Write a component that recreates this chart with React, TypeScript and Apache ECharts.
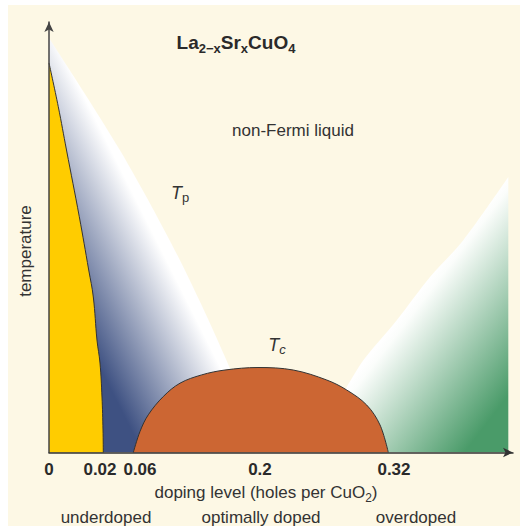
import React, { useEffect, useRef } from 'react';
import * as echarts from 'echarts';

// Schematic phase diagram: x and y are in schematic units (0–100) along each axis.
const xTickPositions = [0, 10.99, 19.61, 45.47, 74.35];
const xTickLabels = ['0', '0.02', '0.06', '0.2', '0.32'];

const pseudogapEdge = [
  [0, 96.3], [7.76, 83.3], [15.3, 70.2], [22.0, 57.4], [28.2, 44.7],
  [33.8, 32.1], [39.0, 19.5], [41.6, 12.1], [43.75, 0],
];
const afBoundary = [
  [0, 90.48], [2.0, 80.33], [3.77, 70.27], [6.53, 54.77], [8.56, 42.39],
  [9.55, 36.12], [10.34, 26.13], [10.99, 20.79], [11.42, 12.89], [11.64, 5.23], [11.7, 0],
];
const tcDome = [
  [18.17, 0], [19.61, 4.88], [21.4, 8.76], [24.63, 13.0], [28.23, 16.1],
  [32.91, 18.03], [37.93, 19.16], [45.04, 19.74], [52.65, 19.16], [59.85, 16.84],
  [64.16, 14.52], [68.47, 11.03], [71.34, 6.39], [73.13, 0],
];
const fermiEdge = [
  [55.39, 0], [64.16, 15.19], [67.74, 21.4], [74.94, 30.7], [82.11, 40.77],
  [89.29, 49.3], [98.99, 64.0],
];

const FONT = '"Liberation Sans", Arial, Helvetica, sans-serif';
const TXT = '#333333';
const OX = 8;
const OY = 5;

function label(x: number, y: number, text: string, extra: any = {}, rot = 0) {
  return {
    type: 'text',
    x: x - OX,
    y: y - OY,
    rotation: rot,
    silent: true,
    style: {
      text,
      fill: TXT,
      fontFamily: FONT,
      fontSize: 17,
      align: 'center',
      verticalAlign: 'middle',
      ...extra,
    },
  };
}

export default function App() {
  const ref = useRef<HTMLDivElement>(null);
  useEffect(() => {
    if (!ref.current) return;
    const chart = echarts.init(ref.current, undefined, { renderer: 'svg' });
    const pgGrad = new echarts.graphic.LinearGradient(
      180 - OX, 260 - OY, 72.8 - OX, 314 - OY,
      [
        { offset: 0, color: '#ffffff' },
        { offset: 0.1, color: '#ffffff' },
        { offset: 1, color: '#3e5182' },
      ],
      true
    );
    const flGrad = new echarts.graphic.LinearGradient(
      375 - OX, 349.7 - OY, 481 - OX, 431 - OY,
      [
        { offset: 0, color: '#ffffff' },
        { offset: 0.06, color: '#fbfdfb' },
        { offset: 1, color: '#4a9b69' },
      ],
      true
    );
    const option: any = {
      animation: false,
      backgroundColor: 'transparent',
      grid: { left: 41, top: 17, right: 7, bottom: 73.5, containLabel: false },
      xAxis: {
        type: 'value',
        min: 0,
        max: 100,
        z: 10,
        splitLine: { show: false },
        axisTick: { show: false },
        axisLine: {
          show: true,
          onZero: false,
          symbol: ['none', 'arrow'],
          symbolSize: [7, 10],
          lineStyle: { color: '#333333', width: 1.5 },
        },
        axisLabel: {
          customValues: xTickPositions,
          formatter: (v: number) => {
            const i = xTickPositions.findIndex((p) => Math.abs(p - v) < 1e-6);
            return i >= 0 ? xTickLabels[i] : '';
          },
          color: '#2a2a2a',
          fontFamily: FONT,
          fontSize: 17,
          fontWeight: 'bold',
          margin: 8,
        },
      },
      yAxis: {
        type: 'value',
        min: 0,
        max: 100,
        z: 10,
        splitLine: { show: false },
        axisTick: { show: false },
        axisLabel: { show: false },
        axisLine: {
          show: true,
          onZero: false,
          symbol: ['none', 'arrow'],
          symbolSize: [7, 10],
          lineStyle: { color: '#444444', width: 1.5 },
        },
      },
      series: [
        {
          name: 'pseudogap',
          type: 'line',
          data: pseudogapEdge,
          smooth: 0.3,
          symbol: 'none',
          lineStyle: { width: 0, opacity: 0 },
          areaStyle: { color: pgGrad, opacity: 1 },
        },
        {
          name: 'Fermi liquid',
          type: 'line',
          data: fermiEdge,
          smooth: 0.3,
          symbol: 'none',
          lineStyle: { width: 0, opacity: 0 },
          areaStyle: { color: flGrad, opacity: 1 },
        },
        {
          name: 'antiferromagnetic',
          type: 'line',
          data: afBoundary,
          smooth: 0.4,
          symbol: 'none',
          lineStyle: { color: '#333333', width: 1 },
          areaStyle: { color: '#ffcc00', opacity: 1 },
        },
        {
          name: 'superconducting',
          type: 'line',
          data: tcDome,
          smooth: 0.35,
          symbol: 'none',
          lineStyle: { color: '#333333', width: 1 },
          areaStyle: { color: '#cc6633', opacity: 1 },
        },
      ],
      graphic: [
        label(236, 42, '{b|La}{s|2\u2212x}{b|Sr}{s|x}{b|CuO}{s|4}', {
          rich: {
            b: { fontFamily: FONT, fontSize: 19, fontWeight: 'bold', fill: '#2a2a2a', verticalAlign: 'middle' },
            s: { fontFamily: FONT, fontSize: 13, fontWeight: 'bold', fill: '#2a2a2a', verticalAlign: 'middle', padding: [13, 0, 0, 0] },
          },
        }),
        label(293, 130, 'non-Fermi liquid'),
        label(180, 193, '{t|T}{s|p}', {
          rich: {
            t: { fontFamily: FONT, fontSize: 18, fontStyle: 'italic', fill: TXT, verticalAlign: 'middle' },
            s: { fontFamily: FONT, fontSize: 13, fill: TXT, verticalAlign: 'middle', padding: [9, 0, 0, 0] },
          },
        }),
        label(25, 251, 'temperature', {}, Math.PI / 2),
        label(72, 349, 'antiferromagnetic', {}, Math.PI / 2),
        label(152, 305, 'pseudogap'),
        label(277, 345, '{t|T}{s|c}', {
          rich: {
            t: { fontFamily: FONT, fontSize: 18, fontStyle: 'italic', fill: TXT, verticalAlign: 'middle' },
            s: { fontFamily: FONT, fontSize: 13, fontStyle: 'italic', fill: TXT, verticalAlign: 'middle', padding: [9, 0, 0, 0] },
          },
        }),
        label(269, 417, 'superconducting'),
        label(443, 393, 'Fermi liquid'),
        label(266, 492, '{m|doping level (holes per CuO}{s|2}{m|)}', {
          rich: {
            m: { fontFamily: FONT, fontSize: 17, fill: TXT, verticalAlign: 'middle' },
            s: { fontFamily: FONT, fontSize: 12, fill: TXT, verticalAlign: 'middle', padding: [11, 0, 0, 0] },
          },
        }),
        label(106, 517, 'underdoped'),
        label(261, 517, 'optimally doped'),
        label(416, 517, 'overdoped'),
      ],
    };
    chart.setOption(option);
    return () => chart.dispose();
  }, []);
  return (
    <div style={{ position: 'fixed', left: 0, top: 0, width: 520, height: 526, background: '#ffffff' }}>
      <div
        ref={ref}
        style={{ position: 'absolute', left: OX, top: OY, width: 512, height: 521, background: '#fdf8e5' }}
      />
    </div>
  );
}
